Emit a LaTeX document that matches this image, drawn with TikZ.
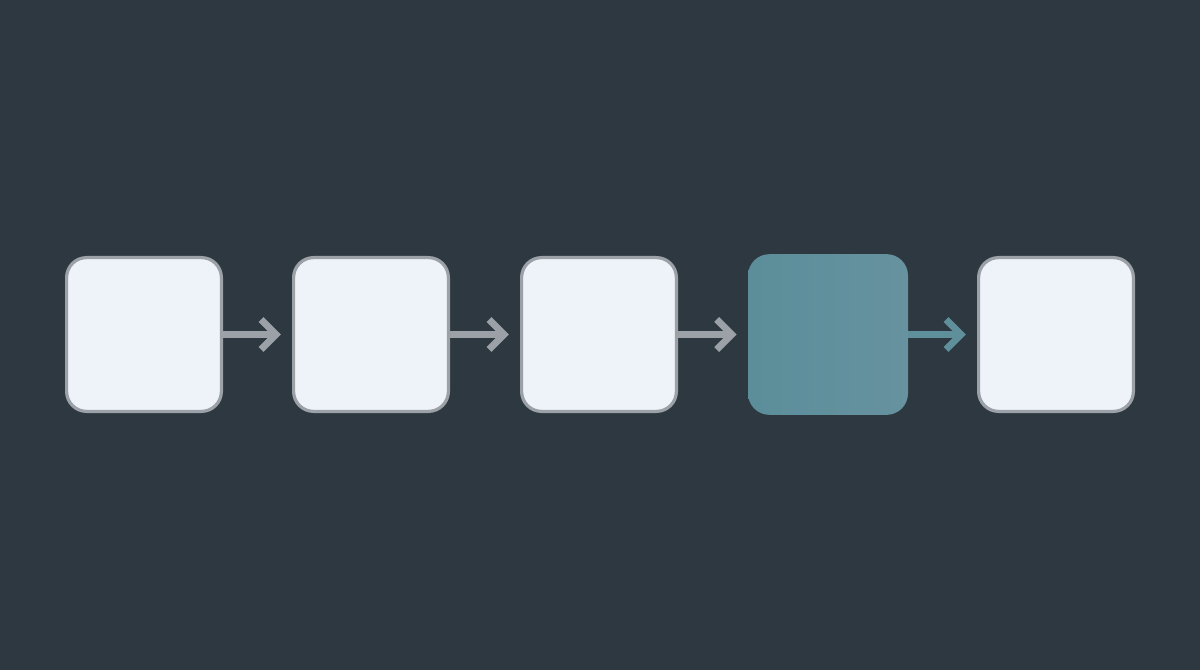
\documentclass[tikz,border=0pt]{standalone}
\definecolor{bgc}{HTML}{2E3840}
\definecolor{boxfill}{HTML}{EEF3FA}
\definecolor{boxline}{HTML}{9BA1A7}
\definecolor{tealA}{HTML}{5B8E9A}
\definecolor{tealB}{HTML}{6792A0}
\definecolor{tealarr}{HTML}{5F8F9A}
\tikzset{
  px/.style={x=0.75pt,y=-0.75pt},
  stepbox/.style={draw=boxline, line width=2.4pt, fill=boxfill, rounded corners=15pt,
    minimum width=118.5pt-2.4pt, minimum height=117.75pt-2.4pt, inner sep=0pt},
  hlbox/.style={rounded corners=16pt, left color=tealA, right color=tealB,
    minimum width=120pt, minimum height=120.5pt, inner sep=0pt},
  shaft/.style={draw=boxline, line width=5.25pt},
  chev/.style={draw=boxline, line width=5.25pt, miter limit=10},
  hlshaft/.style={shaft, draw=tealarr},
  hlchev/.style={chev, draw=tealarr},
}
\begin{document}
\begin{tikzpicture}[px]
\fill[bgc] (0,0) rectangle (1200,670);
\useasboundingbox (0,0) rectangle (1200,670);
\node[stepbox] (b1) at (144,334.5) {};
\node[stepbox] (b2) at (371,334.5) {};
\node[stepbox] (b3) at (599,334.5) {};
\node[hlbox]   (b4) at (828,334.5) {};
\node[stepbox] (b5) at (1056,334.5) {};
% connectors: shaft from box to next box, chevron tip 11px before target
\coordinate (t1) at ([xshift=-12pt]b2.west);
\coordinate (t2) at ([xshift=-12pt]b3.west);
\coordinate (t3) at ([xshift=-12pt]b4.west);
\coordinate (t4) at ([xshift=-12pt]b5.west);
\draw[shaft] (b1.east) -- (t1);
\draw[chev] ([shift={(-15,-15)}]t1) -- (t1) -- ([shift={(-15,15)}]t1);
\draw[shaft] (b2.east) -- (t2);
\draw[chev] ([shift={(-15,-15)}]t2) -- (t2) -- ([shift={(-15,15)}]t2);
\draw[shaft] (b3.east) -- (t3);
\draw[chev] ([shift={(-15,-15)}]t3) -- (t3) -- ([shift={(-15,15)}]t3);
\draw[hlshaft] (b4.east) -- (t4);
\draw[hlchev] ([shift={(-15,-15)}]t4) -- (t4) -- ([shift={(-15,15)}]t4);
\end{tikzpicture}
\end{document}
